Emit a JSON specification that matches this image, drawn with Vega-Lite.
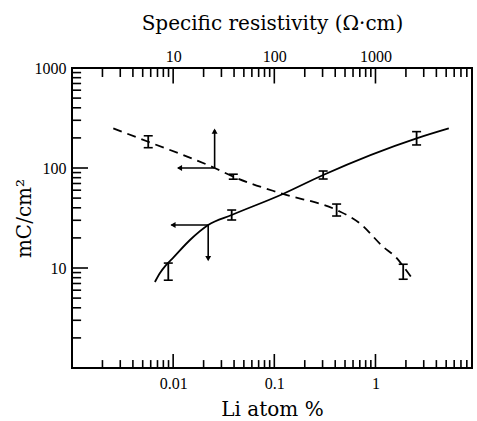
{
  "$schema": "https://vega.github.io/schema/vega-lite/v6.json",
  "width": 400,
  "height": 300,
  "autosize": "none",
  "padding": {"left": 72, "top": 68, "right": 5, "bottom": 53},
  "background": "white",
  "config": {
    "view": {"stroke": "black", "strokeWidth": 2},
    "font": "Liberation Serif",
    "axis": {
      "domain": false, "ticks": false,
      "labelColor": "black", "titleColor": "black", "labelFont": "Liberation Serif", "titleFont": "DejaVu Serif",
      "labelFontSize": 16, "titleFontSize": 20, "titleFontWeight": "normal", "grid": false,
      "labelOverlap": false, "labelFlush": false, "labelBound": false
    }
  },
  "datasets": {
    "solid": [
      {"li": 0.0066, "q": 7.24}, {"li": 0.00741, "q": 8.9}, {"li": 0.00849, "q": 10.7}, {"li": 0.00966, "q": 12.2},
      {"li": 0.01466, "q": 19.05}, {"li": 0.0222, "q": 26.9}, {"li": 0.0379, "q": 33.9}, {"li": 0.1216, "q": 55},
      {"li": 0.304, "q": 85.1}, {"li": 2.55, "q": 198}, {"li": 5.31, "q": 249}
    ],
    "dashed": [
      {"li": 0.00256, "q": 249}, {"li": 0.00567, "q": 183}, {"li": 0.0257, "q": 100}, {"li": 0.0393, "q": 81.9},
      {"li": 0.1216, "q": 55}, {"li": 0.413, "q": 38.0}, {"li": 0.701, "q": 28.0}, {"li": 1.19, "q": 16.3},
      {"li": 1.616, "q": 12.6}, {"li": 1.88, "q": 10.4}, {"li": 2.36, "q": 7.59}
    ],
    "err": [
      {"li": 0.00895, "lo": 7.55, "hi": 11.2}, {"li": 0.0379, "lo": 30.2, "hi": 38.0},
      {"li": 0.304, "lo": 77.6, "hi": 93.3}, {"li": 2.55, "lo": 170, "hi": 231},
      {"li": 0.00567, "lo": 159.6, "hi": 210}, {"li": 0.0393, "lo": 77.3, "hi": 86.7},
      {"li": 0.413, "lo": 33.1, "hi": 43.6}, {"li": 1.88, "lo": 7.72, "hi": 10.9}
    ],
    "arrows": [
      {"x": 0.0257, "y": 100, "x2": 0.0112, "y2": 100}, {"x": 0.0257, "y": 100, "x2": 0.0257, "y2": 240},
      {"x": 0.0222, "y": 26.9, "x2": 0.0096, "y2": 26.9}, {"x": 0.0222, "y": 26.9, "x2": 0.0222, "y2": 12.2}
    ],
    "heads": [
      {"x": 0.01156, "y": 100, "dir": "left"}, {"x": 0.0257, "y": 234, "dir": "up"},
      {"x": 0.00996, "y": 26.9, "dir": "left"}, {"x": 0.0222, "y": 12.4, "dir": "down"}
    ],
    "xticks": [
      {"v": 0.002}, {"v": 0.003}, {"v": 0.004}, {"v": 0.005}, {"v": 0.006}, {"v": 0.007}, {"v": 0.008}, {"v": 0.009},
      {"v": 0.02}, {"v": 0.03}, {"v": 0.04}, {"v": 0.05}, {"v": 0.06}, {"v": 0.07}, {"v": 0.08}, {"v": 0.09},
      {"v": 0.2}, {"v": 0.3}, {"v": 0.4}, {"v": 0.5}, {"v": 0.6}, {"v": 0.7}, {"v": 0.8}, {"v": 0.9},
      {"v": 2}, {"v": 3}, {"v": 4}, {"v": 5}, {"v": 6}, {"v": 7}, {"v": 8}, {"v": 9}
    ],
    "xmajor": [{"v": 0.01}, {"v": 0.1}, {"v": 1}],
    "yticks": [
      {"v": 2}, {"v": 3}, {"v": 4}, {"v": 5}, {"v": 6}, {"v": 7}, {"v": 8}, {"v": 9},
      {"v": 20}, {"v": 30}, {"v": 40}, {"v": 50}, {"v": 60}, {"v": 70}, {"v": 80}, {"v": 90},
      {"v": 200}, {"v": 300}, {"v": 400}, {"v": 500}, {"v": 600}, {"v": 700}, {"v": 800}, {"v": 900}
    ],
    "ymajor": [{"v": 10}, {"v": 100}]
  },
  "layer": [
    {
      "data": {"name": "solid"},
      "mark": {"type": "line", "color": "black", "strokeWidth": 1.8, "interpolate": "monotone"},
      "encoding": {
        "x": {"field": "li", "type": "quantitative", "scale": {"type": "log", "domain": [0.001, 9], "nice": false}, "axis": null},
        "y": {"field": "q", "type": "quantitative", "scale": {"type": "log", "domain": [1, 1000], "nice": false}, "axis": null}
      }
    },
    {
      "data": {"name": "xticks"},
      "mark": {"type": "rule", "color": "black", "strokeWidth": 1.6},
      "encoding": {
        "x": {"field": "v", "type": "quantitative", "axis": null},
        "y": {"datum": 1, "type": "quantitative", "axis": null},
        "y2": {"datum": 1.2}
      }
    },
    {
      "data": {"name": "xmajor"},
      "mark": {"type": "rule", "color": "black", "strokeWidth": 1.6},
      "encoding": {
        "x": {"field": "v", "type": "quantitative", "axis": null},
        "y": {"datum": 1, "type": "quantitative", "axis": null},
        "y2": {"datum": 1.38}
      }
    },
    {
      "data": {"name": "xticks"},
      "mark": {"type": "rule", "color": "black", "strokeWidth": 1.6},
      "encoding": {
        "x": {"field": "v", "type": "quantitative", "axis": null},
        "y": {"datum": 1000, "type": "quantitative", "axis": null},
        "y2": {"datum": 813}
      }
    },
    {
      "data": {"name": "xmajor"},
      "mark": {"type": "rule", "color": "black", "strokeWidth": 1.6},
      "encoding": {
        "x": {"field": "v", "type": "quantitative", "axis": null},
        "y": {"datum": 1000, "type": "quantitative", "axis": null},
        "y2": {"datum": 700}
      }
    },
    {
      "data": {"name": "yticks"},
      "mark": {"type": "rule", "color": "black", "strokeWidth": 1.6},
      "encoding": {
        "x": {"datum": 0.001, "type": "quantitative", "axis": null},
        "x2": {"datum": 0.00123},
        "y": {"field": "v", "type": "quantitative", "axis": null}
      }
    },
    {
      "data": {"name": "ymajor"},
      "mark": {"type": "rule", "color": "black", "strokeWidth": 1.6},
      "encoding": {
        "x": {"datum": 0.001, "type": "quantitative", "axis": null},
        "x2": {"datum": 0.00144},
        "y": {"field": "v", "type": "quantitative", "axis": null}
      }
    },
    {
      "data": {"name": "dashed"},
      "mark": {"type": "line", "color": "black", "strokeWidth": 1.8, "strokeDash": [9, 6], "interpolate": "monotone"},
      "encoding": {
        "x": {"field": "li", "type": "quantitative", "axis": null},
        "y": {"field": "q", "type": "quantitative",
          "axis": {"orient": "left", "title": "mC/cm²", "values": [10, 100, 1000], "offset": -16, "tickSize": 16, "ticks": true, "tickOpacity": 0,
            "labelExpr": "datum.value == 10 ? '10' : datum.value == 100 ? '100' : '1000'",
            "labelPadding": 6, "titlePadding": 0}}
      }
    },
    {
      "data": {"name": "err"},
      "mark": {"type": "rule", "color": "black", "strokeWidth": 1.8},
      "encoding": {
        "x": {"field": "li", "type": "quantitative",
          "axis": {"orient": "bottom", "title": "Li atom %", "values": [0.01, 0.1, 1], "offset": -14, "tickSize": 14, "ticks": true, "tickOpacity": 0,
            "labelExpr": "datum.value == 0.01 ? '0.01' : datum.value == 0.1 ? '0.1' : '1'",
            "labelPadding": 7, "titlePadding": 8}},
        "y": {"field": "lo", "type": "quantitative", "axis": null},
        "y2": {"field": "hi"}
      }
    },
    {
      "data": {"name": "arrows"},
      "mark": {"type": "rule", "color": "black", "strokeWidth": 1.6},
      "encoding": {
        "x": {"field": "x", "type": "quantitative",
          "axis": {"orient": "top", "title": "Specific resistivity (Ω·cm)", "values": [0.01, 0.1, 1], "offset": -14, "tickSize": 14, "ticks": true, "tickOpacity": 0,
            "labelExpr": "datum.value == 0.01 ? '10' : datum.value == 0.1 ? '100' : '1000'",
            "labelPadding": 4, "titlePadding": 15}},
        "x2": {"field": "x2"},
        "y": {"field": "y", "type": "quantitative", "axis": null},
        "y2": {"field": "y2"}
      }
    },
    {
      "data": {"name": "err"},
      "mark": {"type": "tick", "color": "black", "thickness": 1.6, "size": 9, "orient": "horizontal", "opacity": 1},
      "encoding": {
        "x": {"field": "li", "type": "quantitative", "axis": null},
        "y": {"field": "lo", "type": "quantitative", "axis": null}
      }
    },
    {
      "data": {"name": "err"},
      "mark": {"type": "tick", "color": "black", "thickness": 1.6, "size": 9, "orient": "horizontal", "opacity": 1},
      "encoding": {
        "x": {"field": "li", "type": "quantitative", "axis": null},
        "y": {"field": "hi", "type": "quantitative", "axis": null}
      }
    },
    {
      "data": {"name": "heads"},
      "mark": {"type": "point", "filled": true, "color": "black", "size": 35, "opacity": 1},
      "encoding": {
        "x": {"field": "x", "type": "quantitative", "axis": null},
        "y": {"field": "y", "type": "quantitative", "axis": null},
        "shape": {"field": "dir", "type": "nominal", "legend": null,
          "scale": {"domain": ["up", "left", "down"], "range": ["triangle-up", "triangle-left", "triangle-down"]}}
      }
    }
  ],
  "resolve": {"axis": {"x": "independent", "y": "independent"}}
}
